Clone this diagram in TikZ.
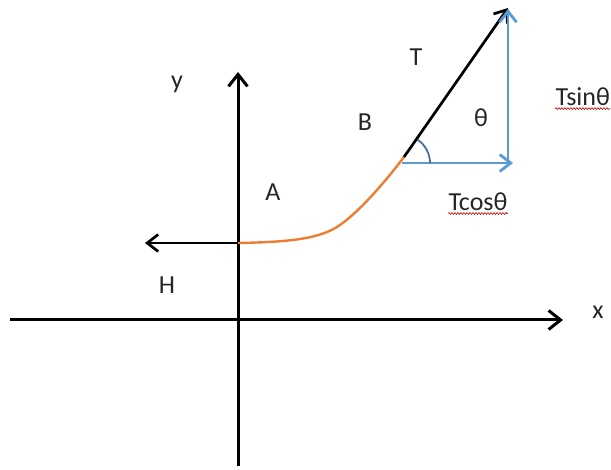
\documentclass[tikz,border=0pt]{standalone}
\usepackage{fontspec}
\setmainfont{Carlito}
\usetikzlibrary{arrows.meta, decorations.pathmorphing, calc}

\definecolor{compblue}{RGB}{91,155,213}
\definecolor{curveorange}{RGB}{237,125,49}
\definecolor{arcblue}{RGB}{65,113,156}

\tikzset{
  axis/.style={line width=3pt, -{Straight Barb[length=12pt, width=19pt]}},
  force/.style={line width=2.7pt, -{Straight Barb[length=11pt, width=17pt]}},
  comp/.style={force, compblue, line width=2.8pt},
  lbl/.style={font=\fontsize{26}{30}\selectfont, text=black!85},
  squiggle/.style={red!80!black, line width=0.6pt, decorate,
    decoration={snake, segment length=3pt, amplitude=0.9pt}}
}

\begin{document}
\begin{tikzpicture}[x=1pt, y=1pt]
  \useasboundingbox (0,0) rectangle (611,470);

  % Define points
  \coordinate (xl) at (10,150);
  \coordinate (xr) at (563,150);
  \coordinate (yb) at (238,4);
  \coordinate (yt) at (238,398);
  \coordinate (lowpt) at (238,227);   % lowest point of the cable
  \coordinate (hend) at (145,227);
  \coordinate (bend) at (340,245);
  \coordinate (toppt) at (404,313);   % where the cable leaves
  \coordinate (ttip) at (508,462);
  \coordinate (base) at (402,307);
  \coordinate (cend) at (513,307);
  \coordinate (corner) at (508,307);
  \coordinate (stip) at (508,461);

  % Axes
  \draw[axis] (xl) -- (xr);
  \draw[axis] (yb) -- (yt);

  % Cable between A and B
  \draw[curveorange, line width=2.4pt] (lowpt) .. controls (290,228) and (320,231) .. (bend)
    .. controls (360,259) and (385,288) .. (toppt);

  % Tension at both ends
  \draw[force] (lowpt) -- (hend);
  \draw[force] (toppt) -- (ttip);

  % Components of T
  \draw[comp] (base) -- (cend);
  \draw[comp] (corner) -- (stip);

  % Angle theta
  \draw[arcblue, line width=1.8pt] ($(base)+(28,0)$) arc[start angle=0, end angle=56, radius=28];

  % Labels
  \node[lbl] (xlab) at (598,158) {x};
  \node[lbl] (ylab) at (177,386) {y};
  \node[lbl] (hlab) at (167,185) {H};
  \node[lbl] (alab) at (273,278) {A};
  \node[lbl] (blab) at (365,348) {B};
  \node[lbl] (tlab) at (416,413) {T};
  \node[lbl] (thlab) at (481,352) {θ};
  \node[lbl, anchor=west] (tsin) at (552,373) {Tsinθ};
  \node[lbl] (tcos) at (478,268) {Tcosθ};

  % Spell-check underlines
  \draw[squiggle] ($(tcos.south west)+(3,1)$) -- ($(tcos.south east)+(-3,1)$);
  \draw[squiggle] ($(tsin.south west)+(3,1)$) -- ($(tsin.south east)+(-3,1)$);
\end{tikzpicture}
\end{document}
